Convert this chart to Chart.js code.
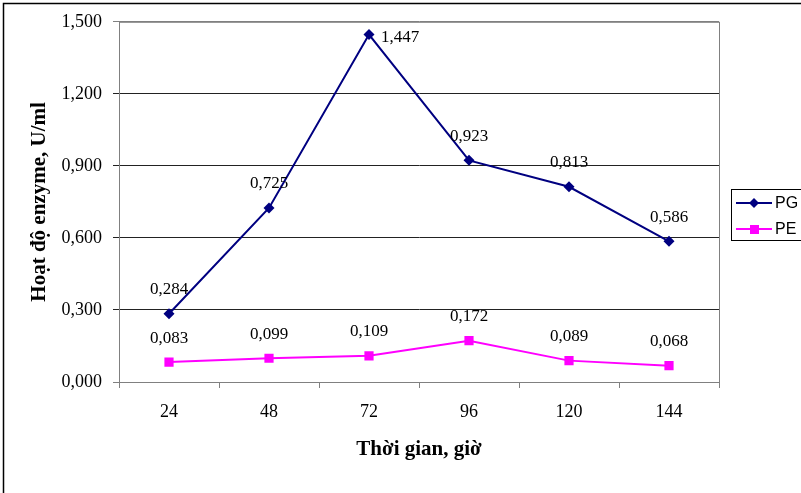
<!DOCTYPE html>
<html>
<head>
<meta charset="utf-8">
<script src="https://cdn.jsdelivr.net/npm/chart.js@4.4.0/dist/chart.umd.min.js"></script>
<style>
  body { margin: 0; background: #fff; }
  #myChart { display: block; }
</style>
</head>
<body>
<canvas id="myChart" width="801" height="493"></canvas>
<script>
// data
const hours = ['24', '48', '72', '96', '120', '144'];
const pgValues = [0.284, 0.725, 1.447, 0.923, 0.813, 0.586];
const peValues = [0.083, 0.099, 0.109, 0.172, 0.089, 0.068];
const seriesNames = ['PG', 'PE'];

const serif = "'Liberation Serif', 'Times New Roman', serif";
const fmt = v => Number(v).toFixed(3).replace('.', ',');

// frame, titles, value labels and legend box
const decor = {
  id: 'decor',
  beforeDraw(chart) {
    const c = chart.ctx;
    c.save();
    c.fillStyle = '#fff';
    c.fillRect(0, 0, chart.width, chart.height);
    c.restore();
  },
  beforeDatasetsDraw(chart) {
    const c = chart.ctx, a = chart.chartArea;
    c.save();
    c.strokeStyle = '#808080';
    c.lineWidth = 1;
    c.strokeRect(a.left + 0.5, a.top + 0.5, a.right - a.left, a.bottom - a.top);
    c.restore();
  },
  afterDraw(chart) {
    const c = chart.ctx, a = chart.chartArea;
    c.save();
    // outer border
    c.strokeStyle = '#000';
    c.lineWidth = 1.5;
    c.beginPath();
    c.moveTo(3.5, chart.height + 2);
    c.lineTo(3.5, 3.5);
    c.lineTo(chart.width + 2, 3.5);
    c.stroke();

    // value labels
    c.fillStyle = '#000';
    c.font = '17px ' + serif;
    c.textBaseline = 'middle';
    chart.data.datasets.forEach((ds, i) => {
      chart.getDatasetMeta(i).data.forEach((pt, j) => {
        let x = pt.x, y = pt.y - 24;
        c.textAlign = 'center';
        if (y < a.top + 8) { x = pt.x + 12; y = pt.y + 3; c.textAlign = 'left'; }
        c.fillText(fmt(ds.data[j]), x, y);
      });
    });

    // axis titles
    c.font = 'bold 21px ' + serif;
    c.textAlign = 'center';
    c.fillText('Thời gian, giờ', (a.left + a.right) / 2, 450);
    c.translate(40, (a.top + a.bottom) / 2);
    c.rotate(-Math.PI / 2);
    c.fillText('Hoạt độ enzyme, U/ml', 0, 0);
    c.restore();

    // legend
    c.save();
    c.strokeStyle = '#000';
    c.lineWidth = 1;
    c.strokeRect(731.5, 189.5, 80, 51);
    c.font = "16px 'Liberation Sans', Arial, sans-serif";
    c.textAlign = 'left';
    c.textBaseline = 'middle';
    chart.data.datasets.forEach((ds, i) => {
      const y = 203 + i * 26;
      c.strokeStyle = ds.borderColor;
      c.lineWidth = 2;
      c.beginPath();
      c.moveTo(736, y);
      c.lineTo(772, y);
      c.stroke();
      c.fillStyle = ds.borderColor;
      if (ds.pointStyle === 'rectRot') {
        c.beginPath();
        c.moveTo(754, y - 5); c.lineTo(759, y); c.lineTo(754, y + 5); c.lineTo(749, y);
        c.closePath(); c.fill();
      } else {
        c.fillRect(750, y - 4, 9, 9);
      }
      c.fillStyle = '#000';
      c.fillText(ds.label, 775, y + 1);
    });
    c.restore();
  }
};

new Chart(document.getElementById('myChart'), {
  type: 'line',
  data: {
    labels: hours,
    datasets: [{
      label: seriesNames[0],
      data: pgValues,
      borderColor: '#000080',
      backgroundColor: '#000080',
      borderWidth: 2,
      pointStyle: 'rectRot',
      pointRadius: 5.5,
      pointBorderWidth: 0,
      tension: 0
    }, {
      label: seriesNames[1],
      data: peValues,
      borderColor: '#FF00FF',
      backgroundColor: '#FF00FF',
      borderWidth: 2,
      pointStyle: 'rect',
      pointRadius: 6.5,
      pointBorderWidth: 0,
      tension: 0
    }]
  },
  options: {
    responsive: false,
    animation: false,
    layout: { padding: { left: 0, top: 20, right: 82, bottom: 0 } },
    plugins: {
      legend: { display: false },
      tooltip: { enabled: false }
    },
    scales: {
      x: {
        offset: true,
        afterFit: s => { s.height = 111; },
        grid: { drawOnChartArea: false, offset: true, tickLength: 6, color: '#808080' },
        border: { color: '#808080' },
        ticks: { color: '#000', font: { family: serif, size: 18 }, padding: 13, maxRotation: 0 }
      },
      y: {
        min: 0,
        max: 1.5,
        afterFit: s => { s.width = 119; },
        grid: {
          tickLength: 6,
          color: ctx => (ctx.tick && (ctx.tick.value === 0 || ctx.tick.value > 1.49)) ? '#808080' : '#222'
        },
        border: { color: '#808080' },
        ticks: {
          stepSize: 0.3,
          color: '#000',
          padding: 11,
          font: { family: serif, size: 18 },
          callback: v => fmt(v)
        }
      }
    }
  },
  plugins: [decor]
});
</script>
</body>
</html>
